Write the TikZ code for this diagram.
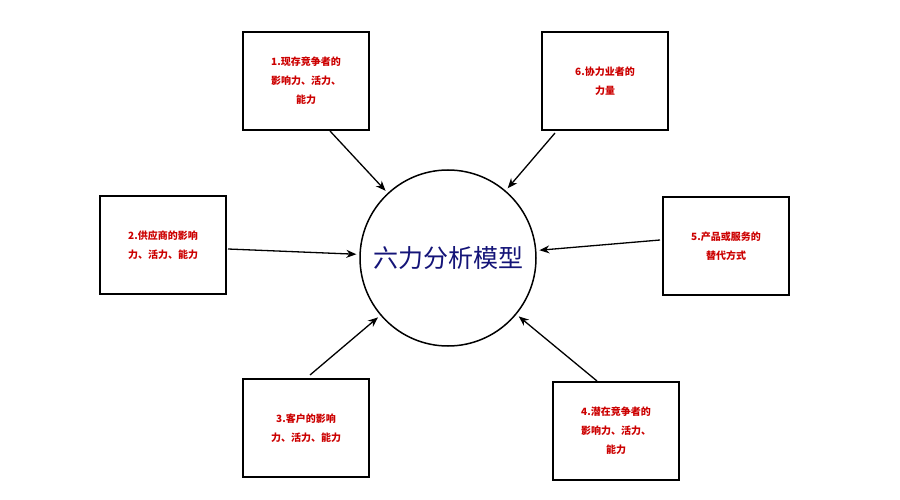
\documentclass[tikz,border=0pt]{standalone}
\usepackage{fontspec}
\setmainfont{Noto Sans CJK SC}
\usetikzlibrary{arrows.meta}
\begin{document}
\begin{tikzpicture}[x=1pt,y=-1pt,
  box/.style={draw,line width=1.3pt,minimum width=126pt,minimum height=98pt,align=center,text=red!80!black,font=\fontsize{10}{19}\selectfont\bfseries},
  arr/.style={-{Stealth[length=10pt,width=8pt]},line width=1.3pt}]
\useasboundingbox[fill=white] (0,0) rectangle (900,500);
\node[draw,circle,line width=1.5pt,minimum size=176pt,font=\fontsize{25}{30}\selectfont,text={rgb,255:red,20;green,20;blue,120}] (c) at (448,258) {六力分析模型};
\node[box] (b1) at (306,81) {1.现存竞争者的\\影响力、活力、\\能力};
\node[box] (b6) at (605,81) {6.协力业者的\\力量};
\node[box] (b2) at (163,245) {2.供应商的影响\\力、活力、能力};
\node[box] (b5) at (726,246) {5.产品或服务的\\替代方式};
\node[box] (b3) at (306,428) {3.客户的影响\\力、活力、能力};
\node[box] (b4) at (616,431) {4.潜在竞争者的\\影响力、活力、\\能力};
\coordinate (t1) at (330,131);
\coordinate (t6) at (555,133);
\coordinate (t2) at (228,249);
\coordinate (t5) at (660,240);
\coordinate (t3) at (310,375);
\coordinate (t4) at (597,381);
\foreach \t in {t1,t6,t2,t5,t3,t4} \draw[arr,shorten >=3pt] (\t) -- (c);
\end{tikzpicture}
\end{document}
